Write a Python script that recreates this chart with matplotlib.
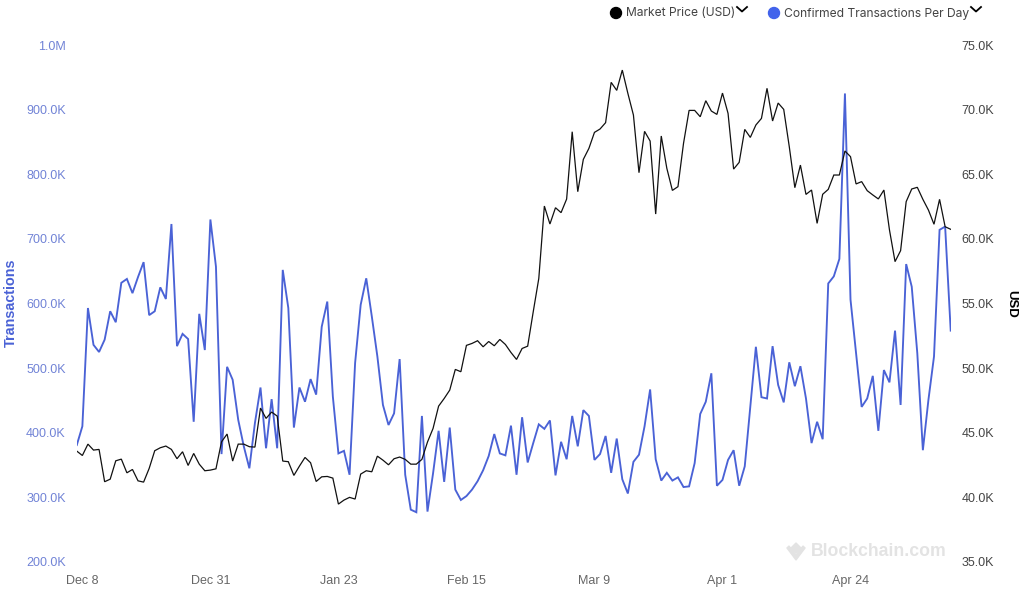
import numpy as np
import matplotlib
matplotlib.use("Agg")
import matplotlib.pyplot as plt
from matplotlib.lines import Line2D
from matplotlib.patches import Circle, Polygon

# values, one per day
transactions = [
    381, 410, 593, 536, 525, 544, 588, 571, 632, 638, 616, 641, 664, 582, 588, 625,
    607, 723, 534, 553, 545, 417, 584, 528, 730, 657, 367, 502, 482, 420, 379, 345,
    415, 470, 376, 452, 376, 652, 593, 408, 470, 448, 483, 459, 564, 603, 456, 368,
    372, 335, 508, 598, 639, 580, 518, 443, 412, 430, 514, 335, 281, 277, 426, 278,
    337, 403, 324, 408, 312, 296, 302, 312, 325, 342, 364, 398, 368, 365, 411, 335,
    424, 354, 384, 413, 406, 419, 334, 386, 359, 426, 379, 435, 426, 358, 367, 395,
    338, 391, 328, 306, 355, 366, 410, 467, 359, 326, 338, 326, 331, 316, 317, 353,
    429, 448, 492, 318, 327, 358, 373, 318, 348, 440, 533, 455, 453, 534, 474, 447,
    509, 472, 503, 453, 384, 417, 390, 631, 642, 669, 925, 606, 523, 440, 453, 488,
    403, 497, 478, 558, 443, 661, 626, 523, 373, 451, 518, 714, 719, 558,
]
market_price = [
    43.58, 43.24, 44.12, 43.66, 43.71, 41.21, 41.41, 42.83, 42.96, 41.90, 42.16, 41.28,
    41.18, 42.24, 43.61, 43.84, 43.97, 43.71, 42.99, 43.53, 42.47, 43.40, 42.57, 42.06,
    42.11, 42.21, 44.30, 44.90, 42.81, 44.12, 44.12, 43.92, 43.89, 46.91, 46.11, 46.60,
    46.29, 42.81, 42.76, 41.70, 42.42, 43.09, 42.68, 41.23, 41.59, 41.62, 41.49, 39.48,
    39.79, 40.00, 39.87, 41.80, 42.06, 41.98, 43.19, 42.88, 42.52, 42.99, 43.12, 42.94,
    42.57, 42.57, 42.94, 44.28, 45.33, 47.06, 47.65, 48.30, 49.90, 49.72, 51.76, 51.91,
    52.12, 51.65, 52.06, 51.73, 52.22, 51.83, 51.21, 50.67, 51.52, 51.70, 54.36, 56.94,
    62.54, 61.15, 62.41, 62.03, 63.08, 68.29, 63.65, 66.15, 67.00, 68.24, 68.50, 68.99,
    72.11, 71.49, 73.06, 71.26, 69.58, 65.12, 68.32, 67.57, 61.92, 67.96, 65.46, 63.75,
    64.04, 67.39, 69.94, 69.94, 69.45, 70.69, 69.89, 69.63, 71.28, 69.71, 65.40, 65.92,
    68.47, 67.85, 68.81, 69.32, 71.65, 69.12, 70.51, 70.02, 67.13, 63.96, 65.71, 63.44,
    63.78, 61.20, 63.45, 63.83, 64.94, 64.94, 66.80, 66.36, 64.25, 64.43, 63.73, 63.40,
    63.09, 63.78, 60.69, 58.24, 59.09, 62.88, 63.86, 63.99, 63.06, 62.23, 61.13, 63.06,
    60.94, 60.74,
]
date_ticks = [1, 24, 47, 70, 93, 116, 139]
date_labels = ["Dec 8", "Dec 31", "Jan 23", "Feb 15", "Mar 9", "Apr 1", "Apr 24"]
tx_ticks = [200, 300, 400, 500, 600, 700, 800, 900, 1000]
tx_labels = ["200.0K", "300.0K", "400.0K", "500.0K", "600.0K", "700.0K", "800.0K", "900.0K", "1.0M"]
usd_ticks = [35, 40, 45, 50, 55, 60, 65, 70, 75]
usd_labels = ["35.0K", "40.0K", "45.0K", "50.0K", "55.0K", "60.0K", "65.0K", "70.0K", "75.0K"]

W, H = 1024, 591
BLUE = "#4a62d6"
plt.rcParams["font.family"] = ["Liberation Sans", "DejaVu Sans"]

fig = plt.figure(figsize=(W / 100, H / 100), dpi=100)
ax = fig.add_axes([76.8 / W, 1 - 562 / H, (950.7 - 76.8) / W, (562 - 45) / H])
ax2 = ax.twinx()
days = np.arange(len(transactions))

ax.plot(days, transactions, color=BLUE, lw=1.35, solid_joinstyle="miter")
ax2.plot(days, market_price, color="#111111", lw=0.9, solid_joinstyle="miter")

ax.set_xlim(0, len(days) - 1)
ax.set_ylim(200, 1000)
ax2.set_ylim(35, 75)
ax.set_xticks(date_ticks, date_labels, fontsize=9, color="#666666", va="baseline")
ax.set_yticks(tx_ticks, tx_labels, fontsize=9, color="#7183d6")
ax2.set_yticks(usd_ticks, usd_labels, fontsize=9, color="#444444")
ax.tick_params(axis="x", length=0, pad=15.8)
ax.tick_params(axis="y", length=0, pad=8)
ax2.tick_params(axis="y", length=0, pad=8)
for a in (ax, ax2):
    for s in a.spines.values():
        s.set_visible(False)


def px(x, y):
    return x / W, 1 - y / H


fig.text(*px(11, 303), "Transactions", rotation=90, ha="center", va="center",
         fontsize=10.4, fontweight="bold", color=BLUE)
fig.text(*px(1011, 304), "USD", rotation=270, ha="center", va="center",
         fontsize=9.5, fontweight="bold", color="black")

# legend across the top, each entry with its dropdown chevron
for cx, color, tx, label, chev in [
    (616, "black", 626, "Market Price (USD)", 742),
    (774, "#4263eb", 784, "Confirmed Transactions Per Day", 976),
]:
    fig.add_artist(Circle((cx, H - 13), 5.5, transform=None, color=color))
    fig.text(*px(tx, 13.5), label, ha="left", va="center", fontsize=8.7,
             family=["Inter", "DejaVu Sans"], color="#444444")
    xs, ys = zip(*[px(chev - 5, 7), px(chev, 11.5), px(chev + 5, 7)])
    fig.add_artist(Line2D(xs, ys, color="black", lw=1.3))

# watermark
fig.text(*px(811, 552), "Blockchain.com", ha="left", va="center", fontsize=12.7,
         fontweight="bold", color="#e3e3e3")
for pts in [[(796, 543), (801, 548), (796, 553), (791, 548)],
            [(787, 548), (789, 546), (796, 555), (796, 560)],
            [(805, 548), (803, 546), (796, 555), (796, 560)]]:
    fig.add_artist(Polygon([(x, H - y) for x, y in pts], transform=None, color="#e3e3e3"))

fig.savefig("out.png", dpi=100)
